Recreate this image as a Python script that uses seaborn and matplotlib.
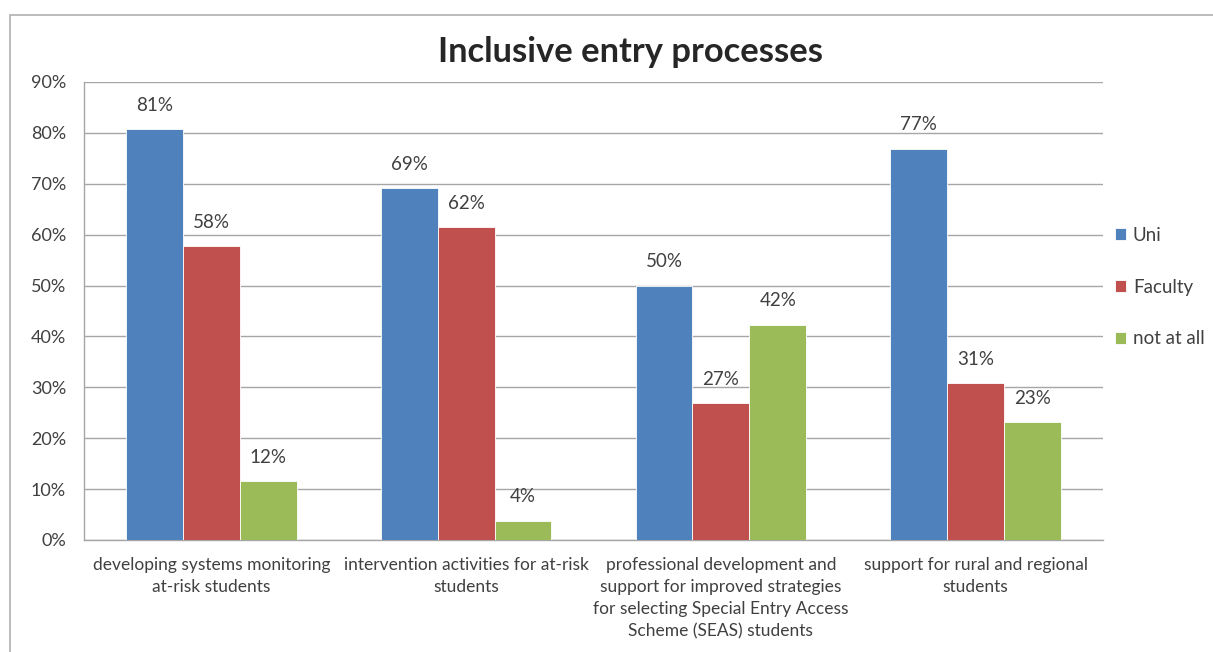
import matplotlib
matplotlib.use("Agg")
import matplotlib.pyplot as plt
import seaborn as sns
import pandas as pd
from matplotlib.patches import Rectangle
from matplotlib.ticker import FuncFormatter

categories = [
    "developing systems monitoring\nat-risk students",
    "intervention activities for at-risk\nstudents",
    "professional development and\nsupport for improved strategies\nfor selecting Special Entry Access\nScheme (SEAS) students",
    "support for rural and regional\nstudents",
]
series_names = ["Uni", "Faculty", "not at all"]
uni = [80.8, 69.2, 50.0, 76.9]
faculty = [57.7, 61.5, 26.9, 30.8]
not_at_all = [11.5, 3.8, 42.3, 23.1]
colors = ["#4F81BD", "#C0504D", "#9BBB59"]
title = "Inclusive entry processes"

rows = []
for name, vals in zip(series_names, [uni, faculty, not_at_all]):
    for c, v in zip(categories, vals):
        rows.append({"category": c, "series": name, "value": v})
df = pd.DataFrame(rows)

sns.set_theme(style="white")
plt.rcParams["font.family"] = ["Lato", "DejaVu Sans"]
text_color = "#404040"

fig = plt.figure(figsize=(12.13, 6.52), dpi=100)
ax = fig.add_axes([84 / 1213, 112 / 652, (1103 - 84) / 1213, (540 - 82) / 652])

sns.barplot(data=df, x="category", y="value", hue="series", palette=colors,
            width=0.67, ax=ax, saturation=1, edgecolor="white", linewidth=0.6,
            legend=True, zorder=3)

ax.set_ylim(0, 90)
ax.set_yticks(range(0, 91, 10))
ax.yaxis.set_major_formatter(FuncFormatter(lambda v, p: f"{int(v)}%"))
ax.grid(axis="y", color="#A6A6A6", linewidth=1, zorder=0)
ax.set_axisbelow(True)
ax.set_xlabel("")
ax.set_ylabel("")
for s in ["top", "right"]:
    ax.spines[s].set_visible(False)
for s in ["left", "bottom"]:
    ax.spines[s].set_color("#A6A6A6")
    ax.spines[s].set_linewidth(1)
ax.tick_params(axis="y", labelsize=13, colors=text_color, length=0, pad=13)
ax.tick_params(axis="x", labelsize=12.5, colors=text_color, length=0, pad=12.5)
for lbl in ax.get_xticklabels():
    lbl.set_linespacing(1.45)
    lbl.set_horizontalalignment("center")

for cont in ax.containers:
    ax.bar_label(cont, labels=[f"{v:.0f}%" for v in cont.datavalues],
                 padding=11, fontsize=13.5, color=text_color)

leg = ax.legend(loc="center left", bbox_to_anchor=(1.0, (540 - 287) / 458),
                frameon=False, fontsize=13.5, handlelength=0.6, handleheight=0.6,
                labelspacing=1.85, handletextpad=0.35, borderaxespad=0.25)
for t in leg.get_texts():
    t.set_color(text_color)

fig.text(630 / 1213, 1 - 52 / 652, title, ha="center", va="center",
         fontsize=24.8, fontweight="bold", color="#262626")

# outer chart border (left and top visible)
fig.patches.append(Rectangle((10 / 1213, -0.1), 1.2, 1 - 15 / 652 + 0.1,
                             transform=fig.transFigure, fill=False,
                             edgecolor="#B0B0B0", linewidth=1.2))

fig.savefig("out.png", dpi=100)
